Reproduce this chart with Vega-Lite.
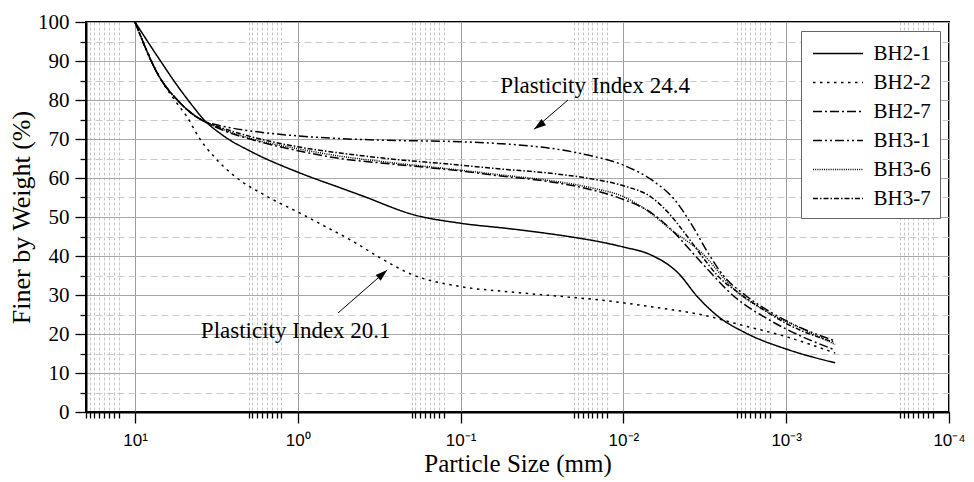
{
  "$schema": "https://vega.github.io/schema/vega-lite/v6.json",
  "width": 863,
  "height": 390,
  "autosize": {"type": "none"},
  "padding": {"left": 86, "top": 22, "right": 25, "bottom": 70},
  "background": "white",
  "config": {
    "view": {"stroke": "black", "strokeWidth": 2},
    "font": "Liberation Serif",
    "axisX": {
      "labelFont": "Liberation Sans", "labelFontSize": 17, "labelColor": "black", "labelPadding": 9,
      "labelOverlap": false, "labelFlush": false, "labelBound": false,
      "titleFont": "Liberation Serif", "titleFontSize": 25, "titleFontWeight": "normal", "titleColor": "black", "titlePadding": 3,
      "domainColor": "black", "domainWidth": 2, "tickColor": "black", "tickWidth": 1.3, "grid": true, "gridWidth": 1
    },
    "axisY": {
      "labelFont": "Liberation Serif", "labelFontSize": 21, "labelColor": "black", "labelPadding": 6,
      "labelOverlap": false, "labelFlush": false, "labelBound": false,
      "titleFont": "Liberation Serif", "titleFontSize": 26, "titleFontWeight": "normal", "titleColor": "black", "titlePadding": 3,
      "domainColor": "black", "domainWidth": 2, "tickColor": "black", "tickWidth": 1.3, "grid": true, "gridWidth": 1
    }
  },
  "datasets": {
    "curves": [
      {"s":"BH2-1","d":10,"p":100},{"s":"BH2-1","d":7.1,"p":90.5},{"s":"BH2-1","d":5.35,"p":83},{"s":"BH2-1","d":4.3,"p":77.8},{"s":"BH2-1","d":3.86,"p":75.4},{"s":"BH2-1","d":2.9,"p":71},{"s":"BH2-1","d":1.9,"p":66.6},{"s":"BH2-1","d":1,"p":61.5},{"s":"BH2-1","d":0.55,"p":57.5},{"s":"BH2-1","d":0.4,"p":55.4},{"s":"BH2-1","d":0.195,"p":50.6},{"s":"BH2-1","d":0.1,"p":48.4},{"s":"BH2-1","d":0.05,"p":47},{"s":"BH2-1","d":0.021,"p":44.9},{"s":"BH2-1","d":0.0138,"p":43.6},{"s":"BH2-1","d":0.01,"p":42.3},{"s":"BH2-1","d":0.0068,"p":40.3},{"s":"BH2-1","d":0.0046,"p":35.6},{"s":"BH2-1","d":0.0035,"p":29.5},{"s":"BH2-1","d":0.0026,"p":24.4},{"s":"BH2-1","d":0.00178,"p":20.3},{"s":"BH2-1","d":0.00096,"p":15.9},{"s":"BH2-1","d":0.0005,"p":12.6},
      {"s":"BH2-2","d":10,"p":100},{"s":"BH2-2","d":7.1,"p":86},{"s":"BH2-2","d":5.6,"p":79.5},{"s":"BH2-2","d":4.6,"p":74.5},{"s":"BH2-2","d":4.3,"p":72.2},{"s":"BH2-2","d":3.16,"p":64.8},{"s":"BH2-2","d":2.5,"p":60.8},{"s":"BH2-2","d":1.55,"p":55.3},{"s":"BH2-2","d":0.97,"p":51},{"s":"BH2-2","d":0.66,"p":47.3},{"s":"BH2-2","d":0.46,"p":43.8},{"s":"BH2-2","d":0.32,"p":39.8},{"s":"BH2-2","d":0.2,"p":35.3},{"s":"BH2-2","d":0.098,"p":32.1},{"s":"BH2-2","d":0.05,"p":30.8},{"s":"BH2-2","d":0.022,"p":29.5},{"s":"BH2-2","d":0.0138,"p":28.7},{"s":"BH2-2","d":0.0068,"p":27},{"s":"BH2-2","d":0.0029,"p":24.4},{"s":"BH2-2","d":0.0021,"p":22.8},{"s":"BH2-2","d":0.001,"p":19.3},{"s":"BH2-2","d":0.0005,"p":15.1},
      {"s":"BH3-1","d":10,"p":100},{"s":"BH3-1","d":7.1,"p":86},{"s":"BH3-1","d":5.35,"p":79.5},{"s":"BH3-1","d":4.3,"p":76},{"s":"BH3-1","d":3.86,"p":74.8},{"s":"BH3-1","d":2.9,"p":73.3},{"s":"BH3-1","d":1.9,"p":72},{"s":"BH3-1","d":1,"p":70.8},{"s":"BH3-1","d":0.55,"p":70.1},{"s":"BH3-1","d":0.3,"p":69.7},{"s":"BH3-1","d":0.1,"p":69.3},{"s":"BH3-1","d":0.0566,"p":68.8},{"s":"BH3-1","d":0.0278,"p":67.6},{"s":"BH3-1","d":0.0158,"p":65.7},{"s":"BH3-1","d":0.01,"p":63.3},{"s":"BH3-1","d":0.0067,"p":59.5},{"s":"BH3-1","d":0.00484,"p":54.4},{"s":"BH3-1","d":0.0038,"p":48},{"s":"BH3-1","d":0.00299,"p":40.5},{"s":"BH3-1","d":0.00238,"p":34.5},{"s":"BH3-1","d":0.00179,"p":30},{"s":"BH3-1","d":0.00101,"p":23.5},{"s":"BH3-1","d":0.0005,"p":18.2},
      {"s":"BH3-7","d":10,"p":100},{"s":"BH3-7","d":7.1,"p":86},{"s":"BH3-7","d":5.35,"p":79.5},{"s":"BH3-7","d":4.3,"p":76},{"s":"BH3-7","d":3.86,"p":74.8},{"s":"BH3-7","d":2.9,"p":72.8},{"s":"BH3-7","d":1.9,"p":70.5},{"s":"BH3-7","d":1,"p":68},{"s":"BH3-7","d":0.55,"p":66.4},{"s":"BH3-7","d":0.3,"p":65.1},{"s":"BH3-7","d":0.1,"p":63.3},{"s":"BH3-7","d":0.0566,"p":62.3},{"s":"BH3-7","d":0.0278,"p":61.2},{"s":"BH3-7","d":0.0158,"p":59.8},{"s":"BH3-7","d":0.01,"p":58},{"s":"BH3-7","d":0.0067,"p":55},{"s":"BH3-7","d":0.00527,"p":51},{"s":"BH3-7","d":0.0042,"p":45.9},{"s":"BH3-7","d":0.0033,"p":40},{"s":"BH3-7","d":0.00259,"p":34.6},{"s":"BH3-7","d":0.00195,"p":30.5},{"s":"BH3-7","d":0.00141,"p":26.5},{"s":"BH3-7","d":0.00101,"p":22.8},{"s":"BH3-7","d":0.0005,"p":17.8},
      {"s":"BH3-6","d":10,"p":100},{"s":"BH3-6","d":7.1,"p":86},{"s":"BH3-6","d":5.35,"p":79.5},{"s":"BH3-6","d":4.3,"p":76},{"s":"BH3-6","d":3.86,"p":74.8},{"s":"BH3-6","d":2.9,"p":72.5},{"s":"BH3-6","d":1.9,"p":70},{"s":"BH3-6","d":1,"p":67.5},{"s":"BH3-6","d":0.55,"p":65.6},{"s":"BH3-6","d":0.3,"p":64.2},{"s":"BH3-6","d":0.1,"p":62},{"s":"BH3-6","d":0.0566,"p":60.8},{"s":"BH3-6","d":0.0278,"p":59.3},{"s":"BH3-6","d":0.0158,"p":57.5},{"s":"BH3-6","d":0.01,"p":55.2},{"s":"BH3-6","d":0.0067,"p":50.8},{"s":"BH3-6","d":0.00527,"p":47.2},{"s":"BH3-6","d":0.0033,"p":40.8},{"s":"BH3-6","d":0.00207,"p":31.3},{"s":"BH3-6","d":0.00127,"p":25.4},{"s":"BH3-6","d":0.000796,"p":21.3},{"s":"BH3-6","d":0.0005,"p":17.3},
      {"s":"BH2-7","d":10,"p":100},{"s":"BH2-7","d":7.1,"p":86},{"s":"BH2-7","d":5.35,"p":79.5},{"s":"BH2-7","d":4.3,"p":76},{"s":"BH2-7","d":3.86,"p":74.8},{"s":"BH2-7","d":2.9,"p":72.3},{"s":"BH2-7","d":1.9,"p":69.8},{"s":"BH2-7","d":1,"p":67},{"s":"BH2-7","d":0.55,"p":65},{"s":"BH2-7","d":0.3,"p":63.8},{"s":"BH2-7","d":0.1,"p":61.8},{"s":"BH2-7","d":0.0566,"p":60.5},{"s":"BH2-7","d":0.0278,"p":59},{"s":"BH2-7","d":0.0158,"p":57},{"s":"BH2-7","d":0.01,"p":54.5},{"s":"BH2-7","d":0.0067,"p":51},{"s":"BH2-7","d":0.00527,"p":47.4},{"s":"BH2-7","d":0.0033,"p":38.2},{"s":"BH2-7","d":0.00207,"p":29.5},{"s":"BH2-7","d":0.00127,"p":23.6},{"s":"BH2-7","d":0.000796,"p":19.3},{"s":"BH2-7","d":0.0005,"p":15.9}
    ],
    "notes": [
      {"label":"Plasticity Index 24.4","d":0.0149,"p":83.5},
      {"label":"Plasticity Index 20.1","d":1.03,"p":20.8}
    ],
    "arrowA": [{"d":0.0219,"p":80,"d2":0.0354,"p2":72.5}],
    "arrowB": [{"d":0.566,"p":25.4,"d2":0.2825,"p2":36.4}],
    "tipA": [{"d":0.0354,"p":72.5}],
    "tipB": [{"d":0.2825,"p":36.4}]
  },
  "encoding": {
    "x": {
      "field": "d", "type": "quantitative",
      "scale": {"type": "log", "domain": [0.0001, 20], "reverse": true, "nice": false},
      "axis": {
        "title": "Particle Size (mm)",
        "labelFont": "Liberation Sans", "labelFontSize": 17,
        "titleFont": "Liberation Serif", "titleFontSize": 25,
        "values": [10,1,0.1,0.01,0.001,0.0001,
          12.6,13.5,14.5,15.5,16.6,17.8,19,20,
          1.26,1.35,1.45,1.55,1.66,1.78,1.9,2,
          0.126,0.135,0.145,0.155,0.166,0.178,0.19,0.2,
          0.0126,0.0135,0.0145,0.0155,0.0166,0.0178,0.019,0.02,
          0.00126,0.00135,0.00145,0.00155,0.00166,0.00178,0.0019,0.002,
          0.000126,0.000135,0.000145,0.000155,0.000166,0.000178,0.00019,0.0002],
        "labelExpr": "datum.value == 10 ? '10¹' : datum.value == 1 ? '10⁰' : datum.value == 0.1 ? '10⁻¹' : datum.value == 0.01 ? '10⁻²' : datum.value == 0.001 ? '10⁻³' : datum.value == 0.0001 ? '10⁻⁴' : ''",
        "tickSize": {"condition": {"test": "indexof([10,1,0.1,0.01,0.001,0.0001], datum.value) >= 0", "value": 11}, "value": 6},
        "gridColor": {"condition": {"test": "indexof([10,1,0.1,0.01,0.001,0.0001], datum.value) >= 0", "value": "#9c9c9c"}, "value": "#c6c6c6"},
        "gridDash": {"condition": {"test": "indexof([10,1,0.1,0.01,0.001,0.0001], datum.value) >= 0", "value": []}, "value": [3, 2]}
      }
    },
    "y": {
      "field": "p", "type": "quantitative",
      "scale": {"domain": [0, 100], "nice": false},
      "axis": {
        "title": "Finer by Weight (%)",
        "labelFont": "Liberation Serif", "labelFontSize": 21,
        "titleFont": "Liberation Serif", "titleFontSize": 26,
        "values": [0,5,10,15,20,25,30,35,40,45,50,55,60,65,70,75,80,85,90,95,100],
        "labelExpr": "(datum.value / 10) == floor(datum.value / 10) ? datum.label : ''",
        "tickSize": {"condition": {"test": "(datum.value / 10) == floor(datum.value / 10)", "value": 11}, "value": 6},
        "gridColor": {"condition": {"test": "(datum.value / 10) == floor(datum.value / 10)", "value": "#a8a8a8"}, "value": "#cacaca"},
        "gridDash": {"condition": {"test": "(datum.value / 10) == floor(datum.value / 10)", "value": []}, "value": [7, 4]}
      }
    }
  },
  "layer": [
    {
      "data": {"name": "curves"},
      "mark": {"type": "line", "interpolate": "monotone", "strokeWidth": 1.5, "color": "black"},
      "encoding": {
        "strokeDash": {
          "field": "s", "type": "nominal",
          "scale": {
            "domain": ["BH2-1","BH2-2","BH2-7","BH3-1","BH3-6","BH3-7"],
            "range": [[1,0],[2.5,4.5],[9,3,2,3],[9,3,2,3,2,3],[1,1.2],[5,2,1.5,2]]
          },
          "legend": {
            "title": null, "orient": "none", "legendX": 715, "legendY": 9,
            "fillColor": "white", "strokeColor": "#666666", "padding": 9, "cornerRadius": 0,
            "symbolType": "M-2,0H2", "symbolSize": 625, "symbolOffset": 14.5, "symbolStrokeWidth": 1.5, "symbolStrokeColor": "black",
            "labelFont": "Liberation Serif", "labelFontSize": 21, "labelColor": "black", "labelOffset": 22,
            "rowPadding": 5
          }
        }
      }
    },
    {
      "data": {"name": "arrowA"},
      "mark": {"type": "rule", "color": "black", "strokeWidth": 1},
      "encoding": {"x2": {"field": "d2"}, "y2": {"field": "p2"}}
    },
    {
      "data": {"name": "arrowB"},
      "mark": {"type": "rule", "color": "black", "strokeWidth": 1},
      "encoding": {"x2": {"field": "d2"}, "y2": {"field": "p2"}}
    },
    {
      "data": {"name": "tipA"},
      "mark": {"type": "point", "shape": "M0,0L-0.32,1L0.32,1Z", "filled": true, "color": "black", "size": 576, "opacity": 1, "angle": 234}
    },
    {
      "data": {"name": "tipB"},
      "mark": {"type": "point", "shape": "M0,0L-0.32,1L0.32,1Z", "filled": true, "color": "black", "size": 576, "opacity": 1, "angle": 49}
    },
    {
      "data": {"name": "notes"},
      "mark": {"type": "text", "font": "Liberation Serif", "fontSize": 23, "color": "black", "align": "center", "baseline": "middle"},
      "encoding": {"text": {"field": "label"}}
    }
  ]
}
